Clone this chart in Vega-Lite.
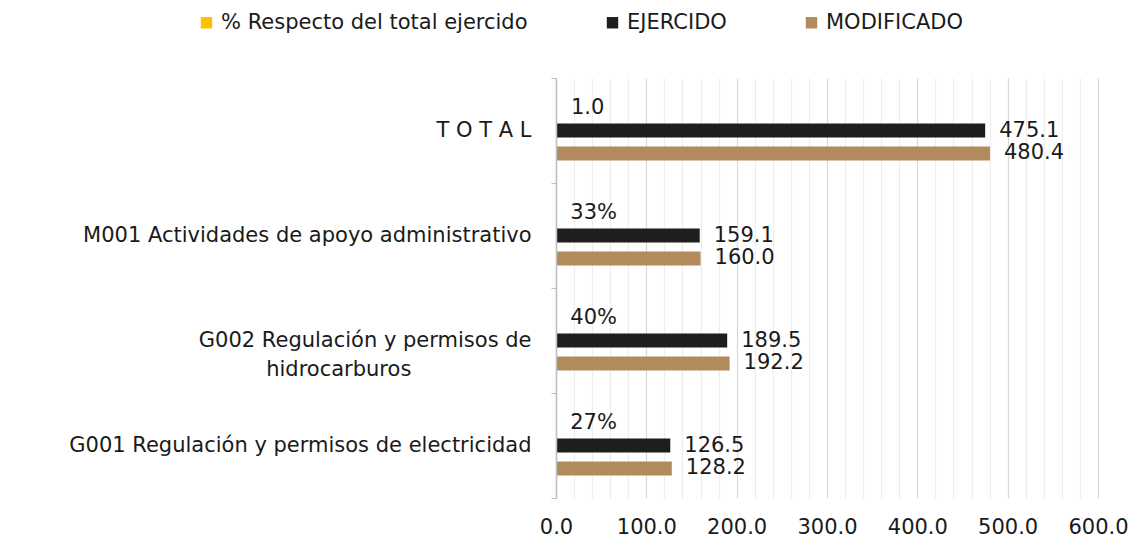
{
  "$schema": "https://vega.github.io/schema/vega-lite/v6.json",
  "width": 542,
  "height": 420,
  "padding": {"left": 68, "top": 12, "right": 10, "bottom": 5},
  "background": "#ffffff",
  "config": {
    "font": "DejaVu Sans",
    "view": {"stroke": null},
    "text": {"color": "#1a1a1a"}
  },
  "data": {
    "values": [
      {"cat": "T O T A L", "serie": "% Respecto del total ejercido", "value": 1.0, "label": "1.0"},
      {"cat": "T O T A L", "serie": "EJERCIDO", "value": 475.1, "label": "475.1"},
      {"cat": "T O T A L", "serie": "MODIFICADO", "value": 480.4, "label": "480.4"},
      {"cat": "M001 Actividades de apoyo administrativo", "serie": "% Respecto del total ejercido", "value": 0.33, "label": "33%"},
      {"cat": "M001 Actividades de apoyo administrativo", "serie": "EJERCIDO", "value": 159.1, "label": "159.1"},
      {"cat": "M001 Actividades de apoyo administrativo", "serie": "MODIFICADO", "value": 160.0, "label": "160.0"},
      {"cat": "G002 Regulación y permisos de|hidrocarburos\u00a0\u00a0\u00a0\u00a0\u00a0\u00a0\u00a0\u00a0\u00a0\u00a0\u00a0\u00a0\u00a0\u00a0\u00a0\u00a0\u00a0\u00a0\u200c", "serie": "% Respecto del total ejercido", "value": 0.40, "label": "40%"},
      {"cat": "G002 Regulación y permisos de|hidrocarburos\u00a0\u00a0\u00a0\u00a0\u00a0\u00a0\u00a0\u00a0\u00a0\u00a0\u00a0\u00a0\u00a0\u00a0\u00a0\u00a0\u00a0\u00a0\u200c", "serie": "EJERCIDO", "value": 189.5, "label": "189.5"},
      {"cat": "G002 Regulación y permisos de|hidrocarburos\u00a0\u00a0\u00a0\u00a0\u00a0\u00a0\u00a0\u00a0\u00a0\u00a0\u00a0\u00a0\u00a0\u00a0\u00a0\u00a0\u00a0\u00a0\u200c", "serie": "MODIFICADO", "value": 192.2, "label": "192.2"},
      {"cat": "G001 Regulación y permisos de electricidad", "serie": "% Respecto del total ejercido", "value": 0.27, "label": "27%"},
      {"cat": "G001 Regulación y permisos de electricidad", "serie": "EJERCIDO", "value": 126.5, "label": "126.5"},
      {"cat": "G001 Regulación y permisos de electricidad", "serie": "MODIFICADO", "value": 128.2, "label": "128.2"}
    ]
  },
  "encoding": {
    "y": {
      "field": "cat",
      "type": "nominal",
      "sort": null,
      "scale": {"paddingInner": 0, "paddingOuter": 0},
      "axis": {
        "title": null,
        "labelExpr": "split(datum.label, '|')",
        "labelFontSize": 21,
        "labelColor": "#1a1a1a",
        "labelLineHeight": 29,
        "labelPadding": 20,
        "labelLimit": 700,
        "tickBand": "extent",
        "tickSize": 5,
        "tickColor": "#bfbfbf",
        "domainColor": "#bfbfbf",
        "domainWidth": 1.5,
        "zindex": 1,
        "grid": false
      }
    },
    "yOffset": {
      "field": "serie",
      "type": "nominal",
      "sort": ["% Respecto del total ejercido", "EJERCIDO", "MODIFICADO"],
      "scale": {"paddingInner": 0.39, "paddingOuter": 0.98}
    },
    "x": {
      "field": "value",
      "type": "quantitative",
      "scale": {"domain": [0, 600], "nice": false},
      "axis": {
        "title": null,
        "values": [0, 20, 40, 60, 80, 100, 120, 140, 160, 180, 200, 220, 240, 260, 280, 300, 320, 340, 360, 380, 400, 420, 440, 460, 480, 500, 520, 540, 560, 580, 600],
        "labelExpr": "datum.value % 100 === 0 ? format(datum.value, '.1f') : ''",
        "labelFontSize": 21,
        "labelColor": "#1a1a1a",
        "labelPadding": 18,
        "labelFlush": false,
        "labelOverlap": false,
        "ticks": false,
        "domain": false,
        "grid": true,
        "gridColor": {"condition": {"test": "datum.value % 100 === 0", "value": "#d9d9d9"}, "value": "#ededed"},
        "gridWidth": 1.2
      }
    }
  },
  "layer": [
    {
      "mark": {"type": "bar"},
      "encoding": {
        "color": {
          "field": "serie",
          "type": "nominal",
          "sort": ["% Respecto del total ejercido", "EJERCIDO", "MODIFICADO"],
          "scale": {"domain": ["% Respecto del total ejercido", "EJERCIDO", "MODIFICADO"], "range": ["#ffc000", "#1e1e1e", "#b18b5c"]},
          "legend": {
            "title": null,
            "orient": "none",
            "direction": "horizontal",
            "legendX": -360,
            "legendY": -66,
            "symbolType": "square",
            "symbolSize": 130,
            "symbolStrokeWidth": 0,
            "labelFontSize": 21,
            "labelColor": "#1a1a1a",
            "labelOffset": 4,
            "columnPadding": 74,
            "labelLimit": 400
          }
        }
      }
    },
    {
      "mark": {"type": "text", "align": "left", "baseline": "middle", "dx": 14, "fontSize": 21},
      "encoding": {"text": {"field": "label", "type": "nominal"}}
    }
  ]
}
